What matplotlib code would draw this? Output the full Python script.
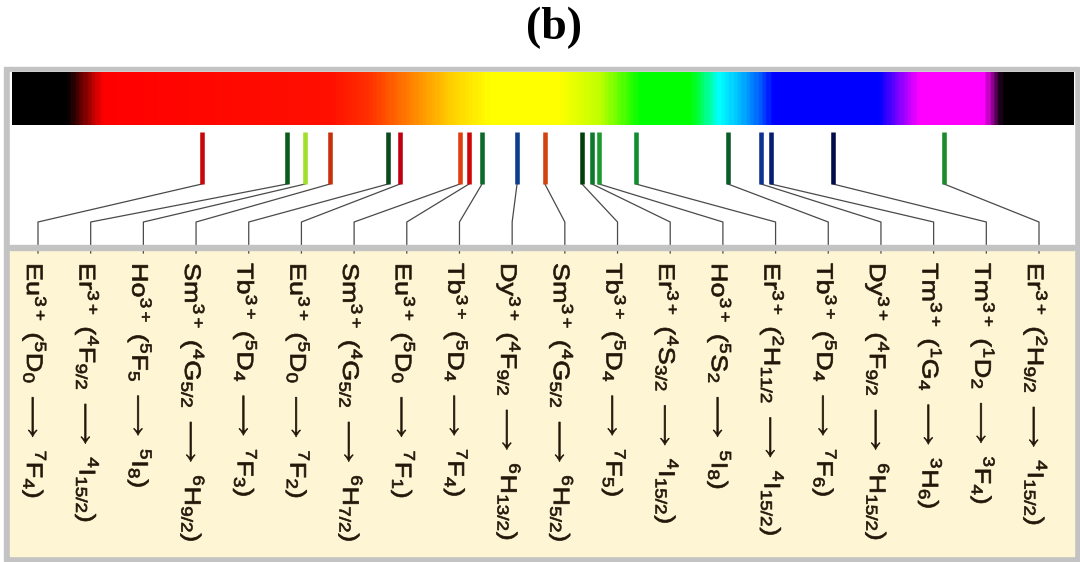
import numpy as np
import matplotlib
matplotlib.use("Agg")
import matplotlib.pyplot as plt
from matplotlib.colors import LinearSegmentedColormap
from matplotlib.patches import Rectangle, PathPatch
from matplotlib.textpath import TextPath
from matplotlib.font_manager import FontProperties
from matplotlib.transforms import Affine2D, ScaledTranslation

plt.rcParams['font.family'] = ['Liberation Sans', 'DejaVu Sans']
plt.rcParams['mathtext.fontset'] = 'custom'
plt.rcParams['mathtext.rm'] = 'Liberation Sans'
plt.rcParams['mathtext.it'] = 'Liberation Sans:italic'
plt.rcParams['mathtext.bf'] = 'Liberation Sans:bold'

# emission lines, left (long wavelength) to right (short), in nm
wavelengths = [708.4, 676.3, 669.5, 660.1, 638.2, 633.7, 611.1, 607.7, 602.8, 589.6,
               579.1, 565.1, 561.3, 558.7, 544.8, 510.1, 497.6, 493.9, 470.5, 428.6]
line_colors = ['#c80808', '#0c5a1c', '#9ee02a', '#c8300c', '#0a4a1e', '#c00010',
               '#e0400e', '#d00606', '#0e6a2c', '#0c3e8c', '#d4420e', '#03400e',
               '#0e7a2c', '#1c9a30', '#128c30', '#0c5c2a', '#0c3490', '#041e72',
               '#020c4a', '#1a8a2c']
ions = ['Eu', 'Er', 'Ho', 'Sm', 'Tb', 'Eu', 'Sm', 'Eu', 'Tb', 'Dy',
        'Sm', 'Tb', 'Er', 'Ho', 'Er', 'Tb', 'Dy', 'Tm', 'Tm', 'Er']
upper = [('5', 'D', '0'), ('4', 'F', '9/2'), ('5', 'F', '5'), ('4', 'G', '5/2'),
         ('5', 'D', '4'), ('5', 'D', '0'), ('4', 'G', '5/2'), ('5', 'D', '0'),
         ('5', 'D', '4'), ('4', 'F', '9/2'), ('4', 'G', '5/2'), ('5', 'D', '4'),
         ('4', 'S', '3/2'), ('5', 'S', '2'), ('2', 'H', '11/2'), ('5', 'D', '4'),
         ('4', 'F', '9/2'), ('1', 'G', '4'), ('1', 'D', '2'), ('2', 'H', '9/2')]
lower = [('7', 'F', '4'), ('4', 'I', '15/2'), ('5', 'I', '8'), ('6', 'H', '9/2'),
         ('7', 'F', '3'), ('7', 'F', '2'), ('6', 'H', '7/2'), ('7', 'F', '1'),
         ('7', 'F', '4'), ('6', 'H', '13/2'), ('6', 'H', '5/2'), ('7', 'F', '5'),
         ('4', 'I', '15/2'), ('5', 'I', '8'), ('4', 'I', '15/2'), ('7', 'F', '6'),
         ('6', 'H', '15/2'), ('3', 'H', '6'), ('3', 'F', '4'), ('4', 'I', '15/2')]

# spectrum colour stops (fraction along bar)
spec_stops = [(0.0, '#000000'), (0.05, '#000000'), (0.083, '#ff0000'), (0.30, '#ff1000'),
              (0.335, '#ff3000'), (0.382, '#ff9000'), (0.413, '#ffd000'), (0.45, '#ffff00'),
              (0.515, '#ffff00'), (0.554, '#c0ff00'), (0.592, '#00ff00'), (0.64, '#00ff00'),
              (0.667, '#00ffff'), (0.685, '#00c0ff'), (0.705, '#0060ff'), (0.718, '#0000ff'),
              (0.818, '#0000ff'), (0.837, '#8000ff'), (0.856, '#ff00ff'), (0.918, '#ff00ff'),
              (0.935, '#000000'), (1.0, '#000000')]
spec_cmap = LinearSegmentedColormap.from_list('spec', spec_stops)

K = 2.6525  # px per nm
def wl(px):
    return 780 - (px - 12) / K

def label(ion, up, lo):
    return (ion + r'$^{3+}$ ($^{%s}$%s$_{%s}$ $\longrightarrow$ $^{%s}$%s$_{%s}$)'
            % (up[0], up[1], up[2], lo[0], lo[1], lo[2]))

fig = plt.figure(figsize=(10.8, 5.62), dpi=100)
ax = fig.add_axes([0, 0, 1, 1])
ax.set_xlim(wl(0), wl(1080))
ax.set_ylim(562, 0)
ax.axis('off')

# frame
ax.add_patch(Rectangle((wl(4), 67), wl(1079) - wl(4), 494, color='#c3c3c3', zorder=0))
ax.add_patch(Rectangle((wl(10), 72), wl(1074) - wl(10), 173, color='white', zorder=1))
ax.add_patch(Rectangle((wl(10), 250), wl(1074) - wl(10), 306, color='#fdf5d3', zorder=1))

# spectrum bar
grad = np.linspace(0, 1, 600).reshape(1, -1)
ax.imshow(grad, cmap=spec_cmap, aspect='auto', extent=[wl(12), wl(1074), 125, 72], zorder=2)

# emission lines
ax.vlines(wavelengths, 132, 184, colors=line_colors, lw=3.3, zorder=4)

# connectors and labels (labels are wide, rotated text paths)
label_x = wl(np.linspace(38, 1039, len(ions)))
fprop = FontProperties(family='Liberation Sans')
em, stretch = 22.5, 1.2
cap = 0.716 * em
for i in range(len(ions)):
    ax.plot([wavelengths[i], label_x[i], label_x[i]], [184, 222, 253],
            color='#4a4a4a', lw=0.9, zorder=3)
    tp = TextPath((0, 0), label(ions[i], upper[i], lower[i]), size=em, prop=fprop)
    tr = (Affine2D().scale(stretch, 1).rotate_deg(-90).translate(-3 - cap / 2, 0)
          + ScaledTranslation(label_x[i], 263, ax.transData))
    ax.add_patch(PathPatch(tp, transform=tr, facecolor='#23170a', edgecolor='#23170a',
                           lw=0.5, zorder=5))
ax.add_patch(Rectangle((wl(10), 245), wl(1074) - wl(10), 5, color='#c3c3c3', zorder=3.5))

ax.text(wl(554), 28, '(b)', ha='center', va='center', fontsize=33,
        fontweight='bold', family='Liberation Serif')

fig.savefig('out.png', dpi=100)
